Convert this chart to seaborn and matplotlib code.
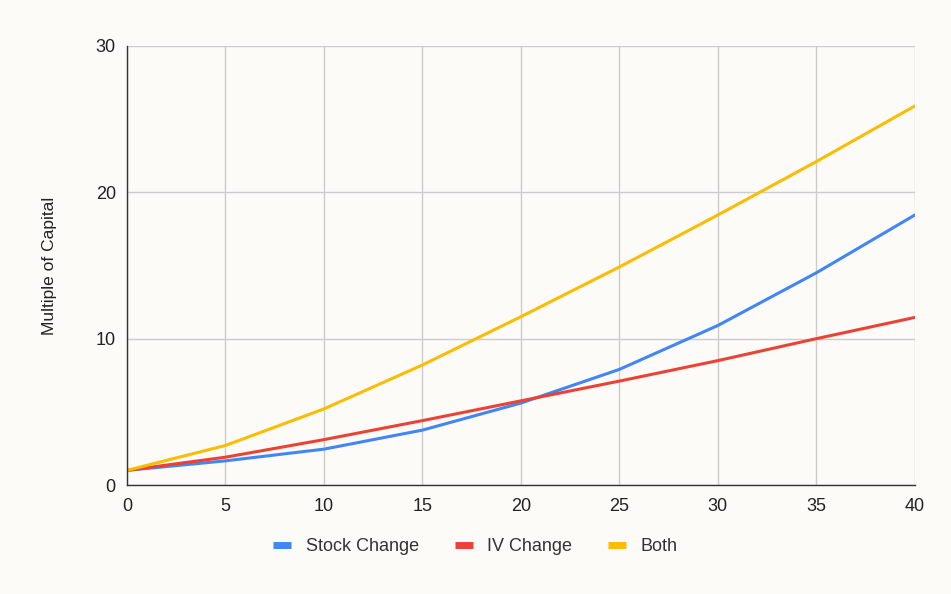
import numpy as np
import pandas as pd
import matplotlib
matplotlib.use("Agg")
import matplotlib.pyplot as plt
import seaborn as sns

# dados
x_vals = [0, 5, 10, 15, 20, 25, 30, 35, 40]
stock_change = [1.0, 1.65, 2.45, 3.75, 5.6, 7.9, 10.9, 14.5, 18.45]
iv_change = [1.0, 1.9, 3.1, 4.4, 5.75, 7.1, 8.5, 10.0, 11.45]
both = [1.0, 2.7, 5.2, 8.2, 11.5, 14.9, 18.45, 22.1, 25.9]
series_names = ["Stock Change", "IV Change", "Both"]
cores = ["#4285F4", "#EA4335", "#FBBC04"]

df = pd.DataFrame({"x": x_vals, "Stock Change": stock_change,
                   "IV Change": iv_change, "Both": both})
df_long = df.melt(id_vars="x", var_name="serie", value_name="valor")

bg = "#FCFBF7"
sns.set_theme(style="whitegrid")
plt.rcParams["font.family"] = ["Liberation Sans", "DejaVu Sans"]

fig = plt.figure(figsize=(9.51, 5.94), dpi=100, facecolor=bg)
ax = fig.add_axes([0.1335, 0.1835, 0.8285, 0.7391])
ax.set_facecolor(bg)

sns.lineplot(data=df_long, x="x", y="valor", hue="serie", hue_order=series_names,
             palette=cores, linewidth=2.2, ax=ax, legend=False)

ax.set_xlim(0, 40)
ax.set_ylim(0, 30)
ax.set_xticks(range(0, 41, 5))
ax.set_yticks([0, 10, 20, 30])
ax.grid(True, color="#CCCCCC", linewidth=1)
for s in ["top", "right"]:
    ax.spines[s].set_visible(False)
ax.spines["left"].set_color("#333333")
ax.spines["bottom"].set_color("#333333")
ax.spines["left"].set_linewidth(1)
ax.spines["bottom"].set_linewidth(1)
ax.tick_params(axis="y", labelsize=13, colors="#222222", length=0, pad=8)
ax.tick_params(axis="x", labelsize=13, colors="#222222", length=0, pad=9)
ax.set_xlabel("")
ax.set_ylabel("Multiple of Capital", fontsize=12.5, color="#222222", labelpad=28)

handles = [plt.Line2D([0], [0], color=c, linewidth=5, solid_capstyle="butt") for c in cores]
fig.legend(handles, series_names, loc="center", bbox_to_anchor=(0.5, 0.08),
           ncol=3, frameon=False, fontsize=13, handlelength=1.0,
           columnspacing=2.0, handletextpad=0.8, labelcolor="#333333")

fig.savefig("out.png", dpi=100, facecolor=bg)
